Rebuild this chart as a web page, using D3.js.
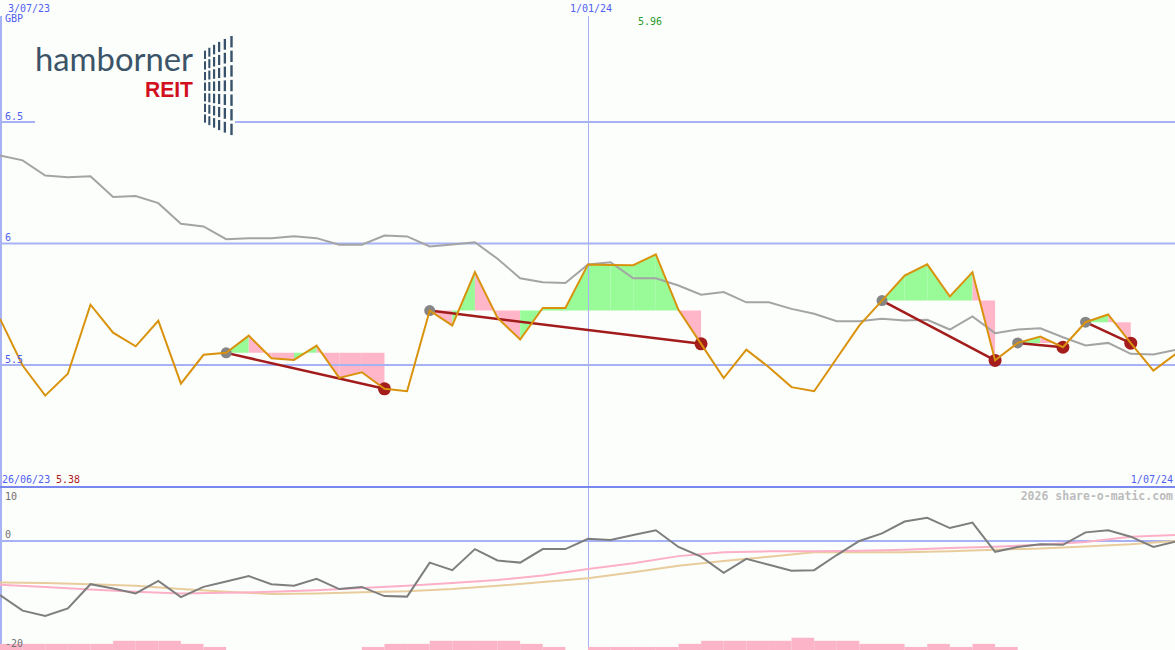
<!DOCTYPE html>
<html><head><meta charset="utf-8">
<script src="https://cdn.jsdelivr.net/npm/d3@7"></script>
<style>html,body{margin:0;padding:0;background:#fcfefc;overflow:hidden}svg{display:block}</style>
</head><body><svg id="c" width="1175" height="650"></svg>
<script>
// ---- data ----
const dates = ["2023-07-03","2023-07-10","2023-07-17","2023-07-24","2023-07-31","2023-08-07","2023-08-14","2023-08-21","2023-08-28","2023-09-04","2023-09-11","2023-09-18","2023-09-25","2023-10-02","2023-10-09","2023-10-16","2023-10-23","2023-10-30","2023-11-06","2023-11-13","2023-11-20","2023-11-27","2023-12-04","2023-12-11","2023-12-18","2023-12-25","2024-01-01","2024-01-08","2024-01-15","2024-01-22","2024-01-29","2024-02-05","2024-02-12","2024-02-19","2024-02-26","2024-03-04","2024-03-11","2024-03-18","2024-03-25","2024-04-01","2024-04-08","2024-04-15","2024-04-22","2024-04-29","2024-05-06","2024-05-13","2024-05-20","2024-05-27","2024-06-03","2024-06-10","2024-06-17","2024-06-24","2024-07-01"];
const price = [5.690,5.498,5.374,5.464,5.748,5.633,5.577,5.682,5.423,5.542,5.550,5.621,5.528,5.521,5.580,5.447,5.470,5.402,5.392,5.724,5.663,5.882,5.694,5.605,5.735,5.735,5.914,5.912,5.911,5.955,5.727,5.587,5.446,5.563,5.491,5.409,5.392,5.528,5.663,5.765,5.868,5.914,5.782,5.882,5.519,5.591,5.617,5.573,5.676,5.708,5.590,5.477,5.546];
const movAvg = [6.362,6.342,6.280,6.273,6.277,6.191,6.195,6.166,6.081,6.070,6.018,6.022,6.022,6.030,6.022,5.995,5.995,6.033,6.029,5.988,5.996,6.005,5.937,5.857,5.841,5.837,5.914,5.923,5.857,5.857,5.827,5.789,5.800,5.758,5.758,5.731,5.711,5.680,5.680,5.690,5.683,5.686,5.646,5.700,5.631,5.646,5.651,5.614,5.580,5.591,5.546,5.543,5.563];
const tradeEntries = [10,19,39,45,48];
const tradeExits   = [17,31,44,47,50];
const oscillator = [-10.0,-12.9,-13.9,-12.5,-8.0,-8.8,-9.7,-7.4,-10.4,-8.5,-7.5,-6.5,-8.0,-8.3,-7.0,-8.9,-8.5,-10.2,-10.3,-4.0,-5.4,-1.5,-3.6,-4.0,-1.5,-1.5,0.4,0.2,1.1,2.0,-1.1,-2.9,-5.9,-3.3,-4.4,-5.5,-5.4,-2.6,0.0,1.4,3.6,4.3,2.4,3.4,-2.0,-1.1,-0.6,-0.7,1.6,2.0,0.8,-1.1,-0.1];
// biweekly smooth signal lines (every second week)
const signalPink = [-8.1,-8.5,-9.0,-9.4,-9.7,-9.6,-9.4,-9.1,-8.7,-8.3,-7.8,-7.2,-6.4,-5.2,-4.1,-2.8,-2.1,-1.9,-1.9,-1.8,-1.6,-1.3,-1.05,-0.7,-0.2,0.8,1.1];
const signalTan  = [-7.7,-7.8,-8.0,-8.3,-8.9,-9.4,-9.8,-9.7,-9.5,-9.3,-8.9,-8.3,-7.6,-6.9,-5.8,-4.6,-3.7,-2.9,-2.1,-2.1,-2.1,-1.9,-1.6,-1.4,-1.0,-0.6,0.0];
const volumeLevel = [2,2,2,2,2,3,3,3,2,1,0,0,0,0,0,0,1,2,2,3,3,3,3,2,1,0,1,1,1,1,2,3,3,3,3,4,3,3,2,2,1,2,1,2,1,0,0,0,0,0,0,0,0];
const priceTicks = [6.5, 6, 5.5];
const priceTickLabels = ["6.5","6","5.5"];
const oscTicks = [10, 0, -20];
const oscTickLabels = ["10","0","-20"];
const dateMarks = ["2024-01-01"];
const labels = {start:"3/07/23", currency:"GBP", mid:"1/01/24", end:"1/07/24", lowDate:"26/06/23", low:"5.38", high:"5.96", credit:"2026 share-o-matic.com"};

// ---- setup ----
const W = 1175, H = 650;
const parse = d3.utcParse("%Y-%m-%d");
const D = dates.map(parse);
const svg = d3.select("#c");
const x = d3.scaleUtc().domain([parse("2023-07-03"), parse("2024-07-01")]).range([0, 1176]);
const y = d3.scaleLinear().domain([5.5, 6.5]).range([365, 122]);
const y2 = d3.scaleLinear().domain([-20, 10]).range([649, 487]);
const yVol = d3.scaleLinear().domain([0, 4]).range([650, 637.7]);

const mono = "'DejaVu Sans Mono', 'Liberation Mono', monospace";
const gridCol = "#a6b2f4";

// ---- trade fills ----
const gFill = svg.append("g");
tradeEntries.forEach((e, k) => {
  const xt = tradeExits[k], lvl = price[e];
  for (let i = e; i < xt; i++) {
    const pts = [[x(D[i]), y(lvl)], [x(D[i]), y(price[i])], [x(D[i+1]), y(price[i+1])], [x(D[i+1]), y(lvl)]];
    gFill.append("path").attr("d", "M" + pts.join("L") + "Z")
      .attr("fill", price[i+1] >= lvl ? "#98fb98" : "#ffb6c8").attr("stroke", "none");
  }
});

// ---- grid ----
const gGrid = svg.append("g");
priceTicks.forEach((t, i) => {
  gGrid.append("line").attr("x1", 0).attr("x2", W).attr("y1", y(t)).attr("y2", y(t))
    .attr("stroke", gridCol).attr("stroke-width", 2);
});
gGrid.append("line").attr("x1", 0).attr("x2", W).attr("y1", y2(0)).attr("y2", y2(0))
  .attr("stroke", gridCol).attr("stroke-width", 2);
dateMarks.forEach(d => {
  const xx = Math.round(x(parse(d))) + 0.5;
  gGrid.append("line").attr("x1", xx).attr("x2", xx).attr("y1", 16).attr("y2", H)
    .attr("stroke", gridCol).attr("stroke-width", 1);
});
gGrid.append("line").attr("x1", 1).attr("x2", 1).attr("y1", 16).attr("y2", H)
  .attr("stroke", gridCol).attr("stroke-width", 2);
gGrid.append("line").attr("x1", 0).attr("x2", W).attr("y1", 487).attr("y2", 487)
  .attr("stroke", "#7888ee").attr("stroke-width", 2);

// ---- moving average ----
const line = d3.line().x((d, i) => x(D[i])).y(d => y(d));
svg.append("path").datum(movAvg).attr("d", line).attr("fill", "none")
  .attr("stroke", "#a4a4a4").attr("stroke-width", 2);

// ---- trades ----
const gTr = svg.append("g");
tradeEntries.forEach((e, k) => {
  const xt = tradeExits[k];
  gTr.append("line").attr("x1", x(D[e])).attr("y1", y(price[e])).attr("x2", x(D[xt])).attr("y2", y(price[xt]))
    .attr("stroke", "#a21c1c").attr("stroke-width", 2.5);
});
tradeEntries.forEach(e => {
  gTr.append("circle").attr("cx", x(D[e])).attr("cy", y(price[e])).attr("r", 5.5).attr("fill", "#858585");
});
tradeExits.forEach(e => {
  gTr.append("circle").attr("cx", x(D[e])).attr("cy", y(price[e])).attr("r", 6.5).attr("fill", "#a41c1c");
});

// ---- price line ----
svg.append("path").datum(price).attr("d", line).attr("fill", "none")
  .attr("stroke", "#d9920c").attr("stroke-width", 2).attr("stroke-linejoin", "miter");

// ---- lower panel ----
svg.append("g").selectAll("rect").data(volumeLevel).join("rect")
  .attr("x", (d, i) => x(D[i]))
  .attr("width", (d, i) => (i < D.length - 1 ? x(D[i+1]) : W) - x(D[i]))
  .attr("y", d => yVol(d)).attr("height", d => 650 - yVol(d))
  .attr("fill", "#fbb4c8");
const D2 = D.filter((d, i) => i % 2 === 0);
const line2 = d3.line().x((d, i) => x(D2[i])).y(d => y2(d));
svg.append("path").datum(signalTan).attr("d", line2).attr("fill", "none")
  .attr("stroke", "#e8cc9c").attr("stroke-width", 2);
svg.append("path").datum(signalPink).attr("d", line2).attr("fill", "none")
  .attr("stroke", "#fcb0c8").attr("stroke-width", 2);
const lineO = d3.line().x((d, i) => x(D[i])).y(d => y2(d));
svg.append("path").datum(oscillator).attr("d", lineO).attr("fill", "none")
  .attr("stroke", "#7e7e7e").attr("stroke-width", 2);

// ---- logo ----
const gL = svg.append("g");
gL.append("rect").attr("x", 35).attr("y", 30).attr("width", 200).attr("height", 110).attr("fill", "#fcfefc");
gL.append("text").attr("x", 35).attr("y", 70.5).attr("font-family", "Lato, 'Open Sans', sans-serif")
  .attr("font-size", 32).attr("fill", "#3b5468").attr("textLength", 158).attr("lengthAdjust", "spacingAndGlyphs").text("hamborner");
gL.append("text").attr("x", 145).attr("y", 97).attr("font-family", "'Liberation Sans', Arial, sans-serif")
  .attr("font-weight", 700).attr("font-size", 22).attr("fill", "#d20f1c").attr("textLength", 48).attr("lengthAdjust", "spacingAndGlyphs").text("REIT");
const colX = [204, 208.3, 213, 218, 223.7, 230.3];
colX.forEach((cx, c) => {
  const t = c / (colX.length - 1);
  const top = 50.7 + (36 - 50.7) * t, bot = 125 + (138.3 - 125) * t;
  const pitch = (bot - top) / 7;
  for (let r = 0; r < 7; r++) {
    gL.append("rect").attr("x", cx).attr("y", top + r * pitch).attr("width", 2 + 0.4 * t)
      .attr("height", pitch * 0.78).attr("fill", "#37526a");
  }
});

// ---- texts ----
const T = (tx, ty, s, col, anchor, size, weight) => svg.append("text").attr("x", tx).attr("y", ty)
  .attr("font-family", mono).attr("font-size", size || 10).attr("font-weight", weight || 400)
  .attr("fill", col).attr("text-anchor", anchor || "start").text(s);
const blue = "#5060f0";
T(8, 12, labels.start, blue);
T(5, 22, labels.currency, blue);
T(591, 12, labels.mid, blue, "middle");
T(650, 25, labels.high, "#2a9a2a", "middle");
T(2, 483, labels.lowDate, blue);
T(56, 483, labels.low, "#b01c1c");
T(1173, 483, labels.end, blue, "end");
T(1173, 499.5, labels.credit, "#bcbcbc", "end", 11.5, 700);
priceTickLabels.forEach((s, i) => T(5, y(priceTicks[i]) - 2.5, s, blue));
T(5, 500, oscTickLabels[0], "#707070");
T(5, y2(oscTicks[1]) - 3, oscTickLabels[1], "#707070");
T(5, 647, oscTickLabels[2], "#707070");
</script></body></html>
